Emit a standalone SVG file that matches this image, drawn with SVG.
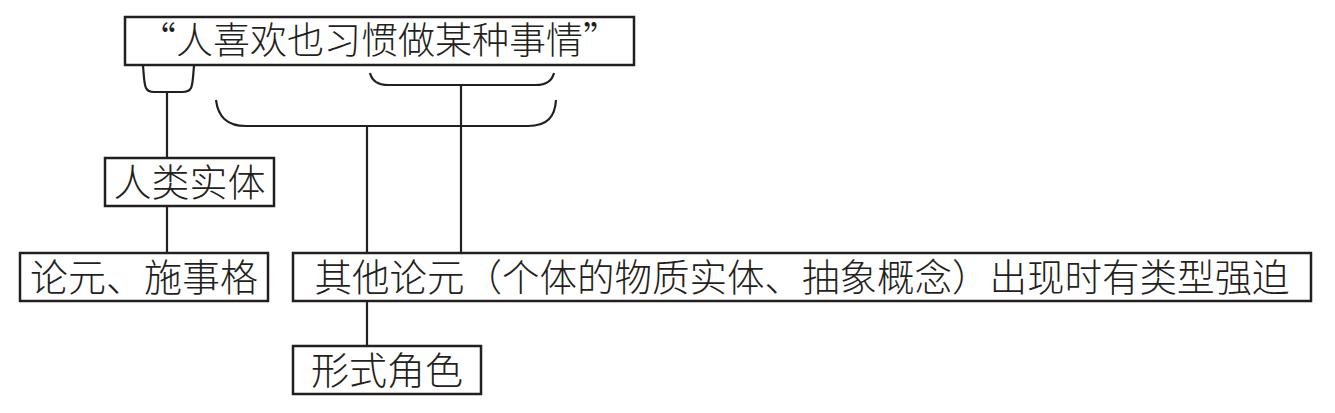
<svg xmlns="http://www.w3.org/2000/svg" width="1335" height="413" viewBox="0 0 1335 413">
<style>
.box{fill:#fff;stroke:#231f20;stroke-width:2.5}
.ln{fill:none;stroke:#231f20;stroke-width:2.2}
.t{font-family:"Noto Sans CJK SC","Noto Sans CJK JP",sans-serif;fill:#231f20;text-anchor:middle;font-weight:300}
</style>
<rect width="1335" height="413" fill="#fff"/>
<g id="connectors">
<path class="ln" d="M143,66 C144,76 144,84 146,88 Q148,92 154,92 L182,92 Q189,92 191,88 C193,84 193,76 194,66"/>
<path class="ln" d="M370,73 C372,81 377,85 388,85 L536,85 C547,85 552,81 554,73"/>
<path class="ln" d="M216,100 C218,116 226,126 246,126 L528,126 C548,126 555,116 556,100"/>
<line class="ln" x1="167" y1="92" x2="167" y2="158"/>
<line class="ln" x1="167" y1="206" x2="167" y2="253"/>
<line class="ln" x1="461" y1="85" x2="461" y2="253"/>
<line class="ln" x1="367" y1="126" x2="367" y2="346"/>
</g>
<g id="node-sentence">
<rect class="box" x="125" y="17" width="509" height="48"/>
<text class="t" x="379.5" y="54" font-size="37">“人喜欢也习惯做某种事情”</text>
</g>
<g id="node-human">
<rect class="box" x="105" y="158" width="169" height="48"/>
<text class="t" x="189.5" y="196" font-size="38">人类实体</text>
</g>
<g id="node-agent">
<rect class="box" x="20" y="253" width="248" height="48"/>
<text class="t" x="144" y="291" font-size="38">论元、施事格</text>
</g>
<g id="node-other">
<rect class="box" x="293" y="253" width="1018" height="48"/>
<text class="t" x="802" y="290.5" font-size="37.5">其他论元（个体的物质实体、抽象概念）出现时有类型强迫</text>
</g>
<g id="node-formal">
<rect class="box" x="293" y="346" width="188" height="48"/>
<text class="t" x="387" y="384" font-size="38">形式角色</text>
</g>
</svg>
